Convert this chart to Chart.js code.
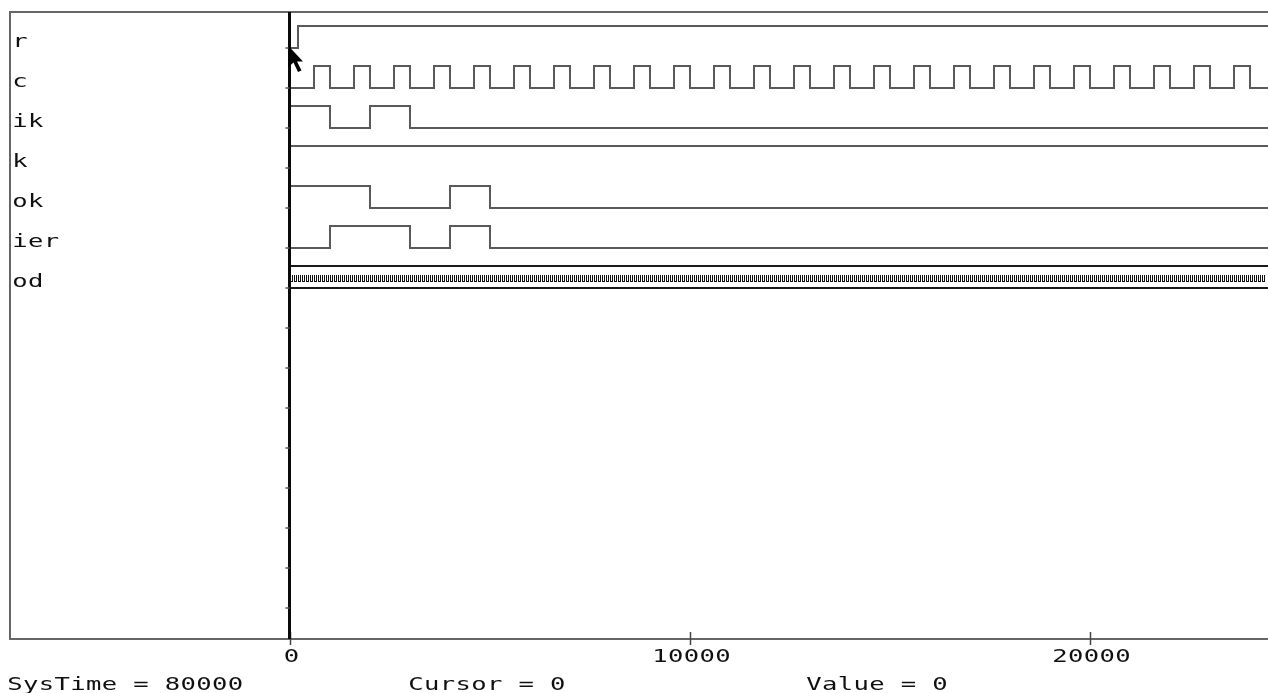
<!DOCTYPE html>
<html>
<head>
<meta charset="utf-8">
<script src="https://cdn.jsdelivr.net/npm/chart.js@4.4.1/dist/chart.umd.min.js"></script>
<style>
  html, body { margin: 0; padding: 0; background: #ffffff; }
  #wrap { width: 1268px; height: 693px; }
</style>
</head>
<body>
<div id="wrap"><canvas id="c" width="1268" height="693"></canvas></div>
<script>
// ---------------- data ----------------
const signalNames = ['r', 'c', 'ik', 'k', 'ok', 'ier', 'od'];
const timeTicks = [0, 10000, 20000];
const timeMin = -7000;
const timeMax = 24450;
const cursorTime = 0;

const rEdges = [0, 200];
const rLevels = [0, 1];

const cEdges = [0,
  600, 1000, 1600, 2000, 2600, 3000, 3600, 4000, 4600, 5000,
  5600, 6000, 6600, 7000, 7600, 8000, 8600, 9000, 9600, 10000,
  10600, 11000, 11600, 12000, 12600, 13000, 13600, 14000, 14600, 15000,
  15600, 16000, 16600, 17000, 17600, 18000, 18600, 19000, 19600, 20000,
  20600, 21000, 21600, 22000, 22600, 23000, 23600, 24000];
const cLevels = [0,
  1, 0, 1, 0, 1, 0, 1, 0, 1, 0,
  1, 0, 1, 0, 1, 0, 1, 0, 1, 0,
  1, 0, 1, 0, 1, 0, 1, 0, 1, 0,
  1, 0, 1, 0, 1, 0, 1, 0, 1, 0,
  1, 0, 1, 0, 1, 0, 1, 0];

const ikEdges = [0, 1000, 2000, 3000];
const ikLevels = [1, 0, 1, 0];

const kEdges = [0];
const kLevels = [1];

const okEdges = [0, 2000, 4000, 5000];
const okLevels = [1, 0, 1, 0];

const ierEdges = [0, 1000, 3000, 4000, 5000];
const ierLevels = [0, 1, 0, 1, 0];

// od bus value changes (one every 100 time units)
const odChanges = [
  0, 100, 200, 300, 400, 500, 600, 700, 800, 900,
  1000, 1100, 1200, 1300, 1400, 1500, 1600, 1700, 1800, 1900,
  2000, 2100, 2200, 2300, 2400, 2500, 2600, 2700, 2800, 2900,
  3000, 3100, 3200, 3300, 3400, 3500, 3600, 3700, 3800, 3900,
  4000, 4100, 4200, 4300, 4400, 4500, 4600, 4700, 4800, 4900,
  5000, 5100, 5200, 5300, 5400, 5500, 5600, 5700, 5800, 5900,
  6000, 6100, 6200, 6300, 6400, 6500, 6600, 6700, 6800, 6900,
  7000, 7100, 7200, 7300, 7400, 7500, 7600, 7700, 7800, 7900,
  8000, 8100, 8200, 8300, 8400, 8500, 8600, 8700, 8800, 8900,
  9000, 9100, 9200, 9300, 9400, 9500, 9600, 9700, 9800, 9900,
  10000, 10100, 10200, 10300, 10400, 10500, 10600, 10700, 10800, 10900,
  11000, 11100, 11200, 11300, 11400, 11500, 11600, 11700, 11800, 11900,
  12000, 12100, 12200, 12300, 12400, 12500, 12600, 12700, 12800, 12900,
  13000, 13100, 13200, 13300, 13400, 13500, 13600, 13700, 13800, 13900,
  14000, 14100, 14200, 14300, 14400, 14500, 14600, 14700, 14800, 14900,
  15000, 15100, 15200, 15300, 15400, 15500, 15600, 15700, 15800, 15900,
  16000, 16100, 16200, 16300, 16400, 16500, 16600, 16700, 16800, 16900,
  17000, 17100, 17200, 17300, 17400, 17500, 17600, 17700, 17800, 17900,
  18000, 18100, 18200, 18300, 18400, 18500, 18600, 18700, 18800, 18900,
  19000, 19100, 19200, 19300, 19400, 19500, 19600, 19700, 19800, 19900,
  20000, 20100, 20200, 20300, 20400, 20500, 20600, 20700, 20800, 20900,
  21000, 21100, 21200, 21300, 21400, 21500, 21600, 21700, 21800, 21900,
  22000, 22100, 22200, 22300, 22400, 22500, 22600, 22700, 22800, 22900,
  23000, 23100, 23200, 23300, 23400, 23500, 23600, 23700, 23800, 23900,
  24000, 24100, 24200, 24300];

const statusTexts = ['SysTime = 80000', 'Cursor = 0', 'Value = 0'];

// ---------------- layout / style constants ----------------
const ROW_FIRST = 0.9;     // y value of first row baseline
const HIGH = 0.55;         // lift of logic '1'
const Y_RANGE = 15.675;    // rows visible in plot
const NUM_ROW_TICKS = 15;
const WAVE_COLOR = '#5a5a5a';
const FONT = '18px "DejaVu Sans Mono", "Liberation Mono", monospace';
const ADV = 15.75;         // character advance of the wide bitmap-like font
const GLYPH = 12;

function rowBase(i) { return ROW_FIRST + i; }

function stepData(edges, levels, row) {
  const pts = edges.map((t, i) => ({ x: t, y: rowBase(row) - levels[i] * HIGH }));
  pts.push({ x: timeMax, y: rowBase(row) - levels[levels.length - 1] * HIGH });
  return pts;
}

function waveDataset(edges, levels, row) {
  return {
    type: 'line',
    data: stepData(edges, levels, row),
    stepped: true,
    borderColor: WAVE_COLOR,
    borderWidth: 2,
    pointRadius: 0,
    fill: false,
    tension: 0
  };
}

const odRow = signalNames.indexOf('od');
const datasets = [
  waveDataset(rEdges, rLevels, 0),
  waveDataset(cEdges, cLevels, 1),
  waveDataset(ikEdges, ikLevels, 2),
  waveDataset(kEdges, kLevels, 3),
  waveDataset(okEdges, okLevels, 4),
  waveDataset(ierEdges, ierLevels, 5),
  // od bus outline (top and bottom rails)
  {
    type: 'line',
    data: [{ x: odChanges[0], y: rowBase(odRow) - HIGH }, { x: timeMax, y: rowBase(odRow) - HIGH }],
    borderColor: '#1a1a1a', borderWidth: 2, pointRadius: 0, fill: false
  },
  {
    type: 'line',
    data: [{ x: odChanges[0], y: rowBase(odRow) }, { x: timeMax, y: rowBase(odRow) }],
    borderColor: '#1a1a1a', borderWidth: 2, pointRadius: 0, fill: false
  },
  // od value-change marks
  {
    type: 'bar',
    data: odChanges.map(t => ({ x: t + 37.5, y: [rowBase(odRow) - 0.325, rowBase(odRow) - 0.15] })),
    backgroundColor: '#ffffff',
    borderColor: '#111111',
    borderWidth: 1,
    borderSkipped: 'start',
    barThickness: 3,
    inflateAmount: 0
  }
];

function monoText(ctx, str, left, baseline) {
  ctx.save();
  ctx.font = FONT;
  ctx.fillStyle = '#101010';
  ctx.textAlign = 'center';
  ctx.textBaseline = 'alphabetic';
  for (let i = 0; i < str.length; i++) {
    ctx.save();
    ctx.translate(left + i * ADV + GLYPH / 2, baseline);
    ctx.scale(1.42, 1);
    ctx.fillText(str[i], 0, 0);
    ctx.restore();
  }
  ctx.restore();
}
function monoWidth(str) { return (str.length - 1) * ADV + GLYPH; }

const decorPlugin = {
  id: 'decor',
  afterDatasetsDraw(chart) {
    const ctx = chart.ctx;
    const a = chart.chartArea;
    const xs = chart.scales.x, ys = chart.scales.y;
    ctx.save();
    // frame
    ctx.strokeStyle = '#666666';
    ctx.lineWidth = 2;
    ctx.beginPath();
    ctx.moveTo(chart.width, a.top); ctx.lineTo(a.left, a.top);
    ctx.lineTo(a.left, a.bottom); ctx.lineTo(chart.width, a.bottom);
    ctx.stroke();

    // time ticks and labels
    ctx.lineWidth = 1.5;
    ctx.strokeStyle = '#444444';
    timeTicks.forEach(t => {
      const px = Math.round(xs.getPixelForValue(t)) + 0.5;
      ctx.beginPath(); ctx.moveTo(px, a.bottom - 7); ctx.lineTo(px, a.bottom + 6); ctx.stroke();
      const lbl = String(t);
      monoText(ctx, lbl, px + 1 - monoWidth(lbl) / 2, a.bottom + 23);
    });

    // cursor line
    const cx = Math.round(xs.getPixelForValue(cursorTime)) - 0.5;
    ctx.strokeStyle = '#0a0a0a';
    ctx.lineWidth = 3;
    ctx.beginPath(); ctx.moveTo(cx, a.top); ctx.lineTo(cx, a.bottom); ctx.stroke();

    // row ticks on cursor line
    ctx.strokeStyle = '#555555';
    ctx.lineWidth = 1.5;
    for (let i = 0; i < NUM_ROW_TICKS; i++) {
      const py = ys.getPixelForValue(rowBase(i));
      ctx.beginPath(); ctx.moveTo(cx - 4, py); ctx.lineTo(cx, py); ctx.stroke();
    }

    // signal names
    signalNames.forEach((n, i) => {
      monoText(ctx, n, a.left + 4, ys.getPixelForValue(rowBase(i)) - 1);
    });

    // status line
    const statusX = [9, 410, 808];
    statusTexts.forEach((s, i) => monoText(ctx, s, statusX[i], a.bottom + 51));

    // mouse pointer
    const tx = cx - 1, ty = ys.getPixelForValue(rowBase(0)) - 2;
    const arrow = [[0, 0], [0, 21], [5, 16.5], [9.5, 26], [13, 24.5], [8.5, 15.5], [14.5, 15.5]];
    ctx.fillStyle = '#000000';
    ctx.beginPath();
    arrow.forEach((p, i) => { if (i === 0) ctx.moveTo(tx + p[0], ty + p[1]); else ctx.lineTo(tx + p[0], ty + p[1]); });
    ctx.closePath();
    ctx.fill();
    ctx.restore();
  }
};

new Chart(document.getElementById('c'), {
  type: 'line',
  data: { datasets },
  options: {
    responsive: false,
    devicePixelRatio: 1,
    animation: false,
    events: [],
    layout: { padding: { left: 10, top: 12, right: 0, bottom: 54 } },
    plugins: { legend: { display: false }, tooltip: { enabled: false } },
    scales: {
      x: { type: 'linear', min: timeMin, max: timeMax, offset: false, display: false },
      y: { type: 'linear', min: 0, max: Y_RANGE, reverse: true, display: false }
    }
  },
  plugins: [decorPlugin]
});
</script>
</body>
</html>
